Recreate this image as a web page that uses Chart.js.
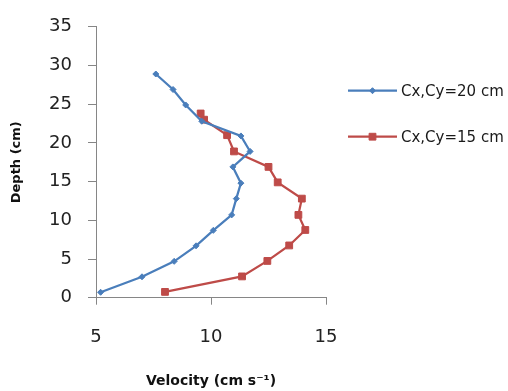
<!DOCTYPE html>
<html>
<head>
<meta charset="utf-8">
<script src="https://cdn.jsdelivr.net/npm/chart.js@4/dist/chart.umd.min.js"></script>
<style>
  html, body { margin: 0; padding: 0; background: #fff; }
  #c { display: block; }
</style>
</head>
<body>
<canvas id="c" width="508" height="391"></canvas>
<script>
// velocity (cm/s) vs depth (cm) profiles
const seriesNames = ['Cx,Cy=20 cm', 'Cx,Cy=15 cm'];

const blueVelocity = [5.2, 7.0, 8.4, 9.35, 10.1, 10.9, 11.1, 11.3, 10.95, 11.7, 11.3, 9.6, 8.9, 8.35, 7.6];
const blueDepth    = [0.7, 2.7, 4.7, 6.7, 8.7, 10.7, 12.8, 14.8, 16.9, 18.9, 20.9, 22.8, 24.9, 26.9, 28.9];

const redVelocity = [8.0, 11.35, 12.45, 13.4, 14.1, 13.8, 13.95, 12.9, 12.5, 11.0, 10.7, 9.7, 9.55];
const redDepth    = [0.75, 2.75, 4.75, 6.75, 8.75, 10.7, 12.8, 14.9, 16.9, 18.9, 21.0, 23.0, 23.8];

const xTicks = [5, 10, 15];
const yTicks = [0, 5, 10, 15, 20, 25, 30, 35];

const blue = '#4A7EBB';
const red = '#BE4B48';
const axisColor = '#868686';

const toPoints = (xs, ys) => xs.map((x, i) => ({ x: x, y: ys[i] }));

// legend drawn by hand so it looks like the excel one
const sideLegend = {
  id: 'sideLegend',
  afterDraw(chart) {
    const ctx = chart.ctx;
    const rows = [90.7, 136.7];
    chart.data.datasets.forEach((ds, i) => {
      const y = rows[i];
      ctx.save();
      ctx.strokeStyle = ds.borderColor;
      ctx.lineWidth = 2.25;
      ctx.beginPath();
      ctx.moveTo(348, y);
      ctx.lineTo(397, y);
      ctx.stroke();
      ctx.fillStyle = ds.backgroundColor;
      ctx.lineWidth = 1;
      Chart.helpers.drawPoint(ctx, {
        pointStyle: ds.pointStyle,
        radius: ds.pointRadius,
        borderWidth: 1
      }, 372.5, y);
      ctx.fillStyle = '#1a1a1a';
      ctx.font = '15px "DejaVu Sans"';
      ctx.textBaseline = 'middle';
      ctx.textAlign = 'left';
      ctx.fillText(ds.label, 401, y + 1);
      ctx.restore();
    });
  }
};

new Chart(document.getElementById('c'), {
  type: 'scatter',
  data: {
    datasets: [
      {
        label: seriesNames[0],
        data: toPoints(blueVelocity, blueDepth),
        showLine: true,
        borderColor: blue,
        backgroundColor: blue,
        borderWidth: 2.25,
        pointStyle: 'rectRot',
        pointRadius: 3,
        pointBorderWidth: 1,
        tension: 0
      },
      {
        label: seriesNames[1],
        data: toPoints(redVelocity, redDepth),
        showLine: true,
        borderColor: red,
        backgroundColor: red,
        borderWidth: 2.25,
        pointStyle: 'rect',
        pointRadius: 4.8,
        pointBorderWidth: 1,
        tension: 0
      }
    ]
  },
  options: {
    responsive: false,
    animation: false,
    layout: { padding: { top: 24, right: 182, bottom: 0, left: 0 } },
    plugins: {
      legend: { display: false },
      tooltip: { enabled: false }
    },
    scales: {
      x: {
        type: 'linear',
        min: 5,
        max: 15,
        afterFit: s => { s.height = 93.3; },
        afterBuildTicks: s => { s.ticks = xTicks.map(v => ({ value: v })); },
        grid: { drawOnChartArea: false, drawTicks: true, tickLength: 7, color: axisColor },
        border: { color: axisColor, width: 1 },
        ticks: {
          color: '#222',
          padding: 22,
          maxRotation: 0,
          font: { family: 'DejaVu Sans', size: 18 }
        },
        title: {
          display: true,
          text: 'Velocity (cm s\u207B\u00B9)',
          color: '#111',
          padding: { top: 0, bottom: 1 },
          font: { family: 'DejaVu Sans', size: 14, weight: 'bold' }
        }
      },
      y: {
        type: 'linear',
        min: 0,
        max: 35,
        afterFit: s => { s.width = 96; },
        afterBuildTicks: s => { s.ticks = yTicks.map(v => ({ value: v })); },
        grid: { drawOnChartArea: false, drawTicks: true, tickLength: 8, color: axisColor },
        border: { color: axisColor, width: 1 },
        ticks: {
          color: '#222',
          padding: 16,
          font: { family: 'DejaVu Sans', size: 18 }
        },
        title: {
          display: true,
          text: 'Depth (cm)',
          color: '#111',
          padding: { top: 9, bottom: 0 },
          font: { family: 'DejaVu Sans', size: 13, weight: 'bold' }
        }
      }
    }
  },
  plugins: [sideLegend]
});
</script>
</body>
</html>
